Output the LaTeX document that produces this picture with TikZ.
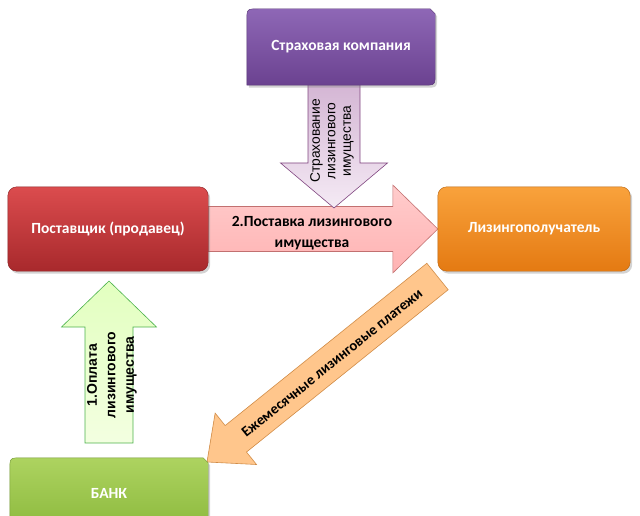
\documentclass[tikz,border=0pt]{standalone}
\usepackage{fontspec}
\setmainfont{Carlito}
\newfontfamily\arifont{Liberation Sans}
\usetikzlibrary{calc,shadows}
\definecolor{purTop}{HTML}{8E67B6}
\definecolor{purBot}{HTML}{6B4290}
\definecolor{redTop}{HTML}{DB4C4E}
\definecolor{redBot}{HTML}{A8292C}
\definecolor{orgTop}{HTML}{F9A23C}
\definecolor{orgBot}{HTML}{E47A12}
\definecolor{grnTop}{HTML}{ADD360}
\definecolor{grnBot}{HTML}{8CB93D}
\newcommand{\blockarr}[6]{%
  \path ($(#2)!#5!(#1)$) coordinate (bah);
  \draw[#6] ($(#1)!#3!90:(#2)$) -- ($(bah)!#3!90:(#2)$) -- ($(bah)!#4!90:(#2)$) -- (#2)
    -- ($(bah)!#4!-90:(#2)$) -- ($(bah)!#3!-90:(#2)$) -- ($(#1)!#3!-90:(#2)$) -- cycle;
}
\tikzset{
  boxtext/.style={font=\bfseries\fontsize{15.5}{18}\selectfont, text=white},
  boxsh/.style={drop shadow={shadow xshift=2pt, shadow yshift=-2.5pt, opacity=0.35}},
  arrtext/.style={font=\bfseries\fontsize{15.5}{21}\selectfont, text=black, align=center},
  lavarr/.style={top color=violet!25!white!95!black, bottom color=violet!8, draw=violet!45!gray, line width=0.6pt},
  pinkarr/.style={top color=red!20, bottom color=red!30!white, draw=red!40!gray!80, line width=0.6pt},
  grnarr/.style={top color=green!45!yellow!25, bottom color=green!40!yellow!12, draw=green!40!gray, line width=0.6pt},
  peacharr/.style={fill=orange!45!white, draw=orange!60!gray!90, line width=0.6pt},
}
\begin{document}
\begin{tikzpicture}[x=1pt,y=-1pt]
\useasboundingbox (0,0) rectangle (640,516);
% boxes (positions)
\node[minimum width=188pt, minimum height=76pt, inner sep=0pt] (ins) at (341,47) {};
\node[minimum width=200pt, minimum height=84pt, inner sep=0pt] (sup) at (108,229) {};
\node[minimum width=192pt, minimum height=84pt, inner sep=0pt] (les) at (534,229) {};
\node[minimum width=198pt, minimum height=72pt, inner sep=0pt] (bank) at (109,494) {};
% arrows
\coordinate (instip) at (334,208);
\coordinate (insbase) at (334,84);
\coordinate (gbase) at (109,443);
\coordinate (gtip) at (109,281);
\coordinate (dtail) at (437.5,276.5);
\coordinate (dtip) at (207,462);
\blockarr{dtail}{dtip}{17pt}{33pt}{37pt}{peacharr}
\blockarr{gbase}{gtip}{24pt}{47.5pt}{46pt}{grnarr}
\blockarr{sup.east}{les.west}{22.5pt}{44pt}{45pt}{pinkarr}
\blockarr{insbase}{instip}{26pt}{53.5pt}{45pt}{lavarr}
% purple box
\shade[top color=purTop, bottom color=purBot, draw=purBot!80!black, line width=0.4pt, boxsh]
  (ins.south west) -- ([yshift=-12pt]ins.north west) .. controls (ins.north west) .. ([xshift=12pt]ins.north west)
  -- ([xshift=-5pt]ins.north east) -- ([yshift=-5pt]ins.north east)
  -- ([yshift=12pt]ins.south east) .. controls (ins.south east) .. ([xshift=-12pt]ins.south east) -- cycle;
% red box
\shade[top color=redTop, bottom color=redBot, draw=redBot!80!black, line width=0.4pt, rounded corners=9pt, boxsh]
  (sup.south west) rectangle (sup.north east);
% orange box
\shade[top color=orgTop, bottom color=orgBot, draw=orgBot!80!black, line width=0.4pt, rounded corners=9pt, boxsh]
  (les.south west) rectangle (les.north east);
% bank box
\shade[top color=grnTop, bottom color=grnBot, draw=grnBot!80!black, line width=0.4pt, boxsh]
  (bank.south west) -- ([yshift=-12pt]bank.north west) .. controls (bank.north west) .. ([xshift=12pt]bank.north west)
  -- ([xshift=-5pt]bank.north east) -- ([yshift=-5pt]bank.north east) -- (bank.south east) -- cycle;
% box texts
\node[boxtext] (inst) at (ins.center) {Страховая компания};
\node[boxtext] (supt) at (sup.center) {Поставщик (продавец)};
\node[boxtext] (lest) at (les.center) {Лизингополучатель};
\node[boxtext] (bankt) at (109,493) {БАНК};
% arrow texts
\node[arrtext] (pinkt) at (312,233.5) {2.Поставка лизингового\\имущества};
\node[font=\arifont\fontsize{13.8}{15.5}\selectfont, align=center, rotate=90] (lavt) at (332,141) {Страхование\\лизингового\\имущества};
\node[font=\arifont\bfseries\fontsize{14}{18.5}\selectfont, align=center, rotate=90] (grnt) at (112,375) {1.Оплата\\лизингового\\имущества};
\node[font=\bfseries\fontsize{14.7}{17}\selectfont, rotate=38.8] (diagt) at (332,363) {Ежемесячные лизинговые платежи};
\end{tikzpicture}
\end{document}
